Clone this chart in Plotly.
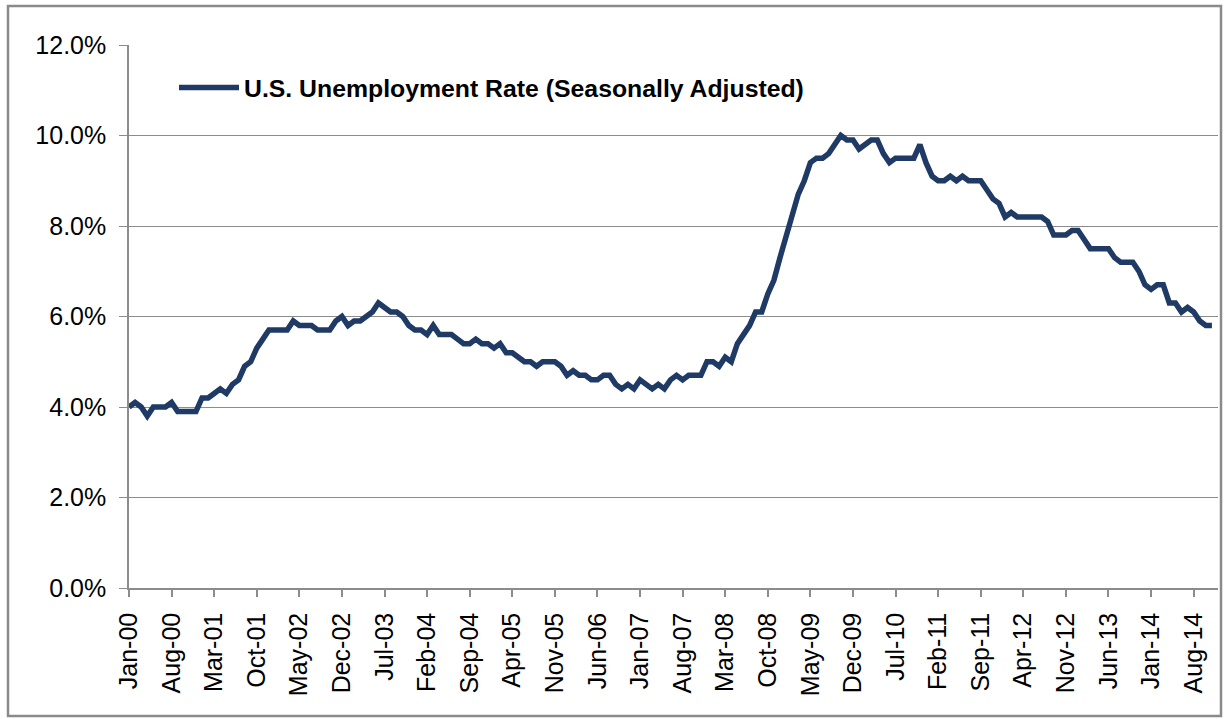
import plotly.graph_objects as go

# Monthly U.S. unemployment rate (%), Jan-2000 .. Nov-2014
rate_2000 = [4.0, 4.1, 4.0, 3.8, 4.0, 4.0, 4.0, 4.1, 3.9, 3.9, 3.9, 3.9]
rate_2001 = [4.2, 4.2, 4.3, 4.4, 4.3, 4.5, 4.6, 4.9, 5.0, 5.3, 5.5, 5.7]
rate_2002 = [5.7, 5.7, 5.7, 5.9, 5.8, 5.8, 5.8, 5.7, 5.7, 5.7, 5.9, 6.0]
rate_2003 = [5.8, 5.9, 5.9, 6.0, 6.1, 6.3, 6.2, 6.1, 6.1, 6.0, 5.8, 5.7]
rate_2004 = [5.7, 5.6, 5.8, 5.6, 5.6, 5.6, 5.5, 5.4, 5.4, 5.5, 5.4, 5.4]
rate_2005 = [5.3, 5.4, 5.2, 5.2, 5.1, 5.0, 5.0, 4.9, 5.0, 5.0, 5.0, 4.9]
rate_2006 = [4.7, 4.8, 4.7, 4.7, 4.6, 4.6, 4.7, 4.7, 4.5, 4.4, 4.5, 4.4]
rate_2007 = [4.6, 4.5, 4.4, 4.5, 4.4, 4.6, 4.7, 4.6, 4.7, 4.7, 4.7, 5.0]
rate_2008 = [5.0, 4.9, 5.1, 5.0, 5.4, 5.6, 5.8, 6.1, 6.1, 6.5, 6.8, 7.3]
rate_2009 = [7.8, 8.3, 8.7, 9.0, 9.4, 9.5, 9.5, 9.6, 9.8, 10.0, 9.9, 9.9]
rate_2010 = [9.7, 9.8, 9.9, 9.9, 9.6, 9.4, 9.5, 9.5, 9.5, 9.5, 9.8, 9.4]
rate_2011 = [9.1, 9.0, 9.0, 9.1, 9.0, 9.1, 9.0, 9.0, 9.0, 8.8, 8.6, 8.5]
rate_2012 = [8.2, 8.3, 8.2, 8.2, 8.2, 8.2, 8.2, 8.1, 7.8, 7.8, 7.8, 7.9]
rate_2013 = [7.9, 7.7, 7.5, 7.5, 7.5, 7.5, 7.3, 7.2, 7.2, 7.2, 7.0, 6.7]
rate_2014 = [6.6, 6.7, 6.7, 6.3, 6.3, 6.1, 6.2, 6.1, 5.9, 5.8, 5.8]

years = list(range(2000, 2015))
month_names = ["Jan", "Feb", "Mar", "Apr", "May", "Jun",
               "Jul", "Aug", "Sep", "Oct", "Nov", "Dec"]
series_name = "U.S. Unemployment Rate (Seasonally Adjusted)"

tick_labels = ["Jan-00", "Aug-00", "Mar-01", "Oct-01", "May-02", "Dec-02",
               "Jul-03", "Feb-04", "Sep-04", "Apr-05", "Nov-05", "Jun-06",
               "Jan-07", "Aug-07", "Mar-08", "Oct-08", "May-09", "Dec-09",
               "Jul-10", "Feb-11", "Sep-11", "Apr-12", "Nov-12", "Jun-13",
               "Jan-14", "Aug-14"]
y_ticks = [0, 2, 4, 6, 8, 10, 12]
y_tick_labels = ["0.0%", "2.0%", "4.0%", "6.0%", "8.0%", "10.0%", "12.0%"]

rates = (rate_2000 + rate_2001 + rate_2002 + rate_2003 + rate_2004 + rate_2005
         + rate_2006 + rate_2007 + rate_2008 + rate_2009 + rate_2010 + rate_2011
         + rate_2012 + rate_2013 + rate_2014)
month_labels = [f"{m}-{str(y)[2:]}" for y in years for m in month_names][:len(rates)]
x_idx = list(range(len(rates)))
tick_idx = [month_labels.index(t) for t in tick_labels]

W, H = 1225, 719
L, R, T, B = 129, 7, 45, 131
pw, ph = W - L - R, H - T - B
font_family = "Liberation Sans, Arial, sans-serif"

fig = go.Figure()
fig.add_trace(go.Scatter(
    x=x_idx, y=rates, mode="lines", name=series_name,
    text=month_labels,
    line=dict(color="#1F3A64", width=5.5),
    cliponaxis=False,
))

fig.update_layout(
    width=W, height=H,
    margin=dict(l=L, r=R, t=T, b=B, autoexpand=False),
    paper_bgcolor="white", plot_bgcolor="white",
    font=dict(family=font_family, size=25, color="black"),
    showlegend=True,
    legend=dict(
        x=(174 - L) / pw, y=(H - B - 65) / ph, xanchor="left", yanchor="top",
        bgcolor="rgba(0,0,0,0)", itemwidth=60,
        font=dict(family=font_family, size=24.8, color="black", weight="bold"),
    ),
    xaxis=dict(
        range=[0, len(rates)], tickmode="array", tickvals=tick_idx,
        ticktext=tick_labels, tickangle=-90, showgrid=False, zeroline=False,
        showline=True, linecolor="#8c8c8c", linewidth=1.5, automargin=False,
        ticks="outside", ticklen=7, tickcolor="#8c8c8c", tickwidth=1.5,
        ticklabelstandoff=6,
        tickfont=dict(family=font_family, size=25, color="black"),
    ),
    yaxis=dict(
        range=[0, 12], tickmode="array", tickvals=y_ticks, ticktext=y_tick_labels,
        showgrid=True, gridcolor="#8c8c8c", gridwidth=1, zeroline=False,
        showline=True, linecolor="#8c8c8c", linewidth=1.5, automargin=False,
        ticks="outside", ticklen=8, tickcolor="#8c8c8c", tickwidth=1,
        ticklabelstandoff=8,
        tickfont=dict(family=font_family, size=25, color="black"),
    ),
    shapes=[dict(
        type="rect", xref="paper", yref="paper",
        x0=(8 - L) / pw, x1=(1221 - L) / pw,
        y0=(H - B - 716) / ph, y1=(H - B - 6) / ph,
        line=dict(color="#8a8a8a", width=2.5), fillcolor="rgba(0,0,0,0)",
        layer="below",
    )],
)

fig.write_html(
    "out.html",
    config={"displayModeBar": False},
    post_script="document.body.style.margin='0';document.body.style.overflow='hidden';",
)
